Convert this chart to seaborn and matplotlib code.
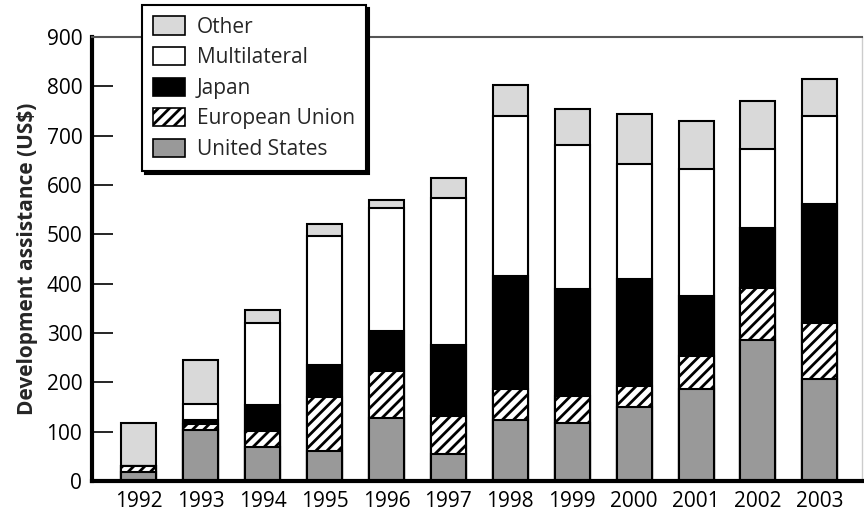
import matplotlib
matplotlib.use("Agg")
import matplotlib.pyplot as plt
import matplotlib.patches as mpatches
import seaborn as sns
import numpy as np
import pandas as pd

years = ["1992", "1993", "1994", "1995", "1996", "1997", "1998", "1999",
         "2000", "2001", "2002", "2003"]
united_states = [18, 104, 68, 60, 127, 54, 123, 118, 149, 186, 286, 207]
european_union = [13, 12, 34, 110, 95, 77, 63, 55, 44, 67, 105, 113]
japan = [0, 8, 52, 65, 83, 144, 230, 216, 217, 123, 121, 242]
multilateral = [0, 33, 167, 262, 249, 299, 324, 293, 233, 256, 161, 178]
other = [86, 89, 25, 24, 16, 40, 62, 73, 100, 98, 98, 74]

series_names = ["United States", "European Union", "Japan", "Multilateral", "Other"]
series_values = [united_states, european_union, japan, multilateral, other]
face_colors = ["#999999", "white", "black", "white", "#d9d9d9"]
hatches = [None, "///", None, None, None]

sns.set_theme(style="white")
plt.rcParams["font.family"] = ["Open Sans", "DejaVu Sans"]
plt.rcParams["hatch.linewidth"] = 2.0
plt.rcParams["hatch.color"] = "black"

FS = 15

fig = plt.figure(figsize=(8.64, 5.18), dpi=100)
ax = fig.add_axes([92 / 864, 1 - 481 / 518, 770 / 864, 444 / 518])

cum = np.cumsum(np.array(series_values), axis=0)
# draw from tallest cumulative to shortest
for i in range(len(series_names) - 1, -1, -1):
    df = pd.DataFrame({"year": years, "value": cum[i]})
    kw = {}
    if hatches[i]:
        kw["hatch"] = hatches[i]
    sns.barplot(data=df, x="year", y="value", color=face_colors[i],
                saturation=1, width=0.565, edgecolor="black", linewidth=1.5,
                errorbar=None, ax=ax, **kw)

ax.set_xlim(-0.755, 11.68)
ax.set_ylim(0, 900)
ax.set_yticks(range(0, 901, 100))
ax.set_xlabel("")
ax.set_ylabel("Development assistance (US$)", fontsize=FS, fontweight="bold",
              labelpad=6)
ax.tick_params(axis="y", direction="in", length=15, width=1.2, color="black",
               labelsize=FS, pad=7, left=True)
ax.tick_params(axis="x", length=0, labelsize=FS, pad=7)
for lab in ax.get_xticklabels() + ax.get_yticklabels():
    lab.set_color("black")

ax.spines["left"].set_linewidth(3)
ax.spines["left"].set_color("black")
ax.spines["bottom"].set_linewidth(3)
ax.spines["bottom"].set_color("black")
ax.spines["top"].set_linewidth(1.5)
ax.spines["top"].set_color("#555555")
ax.spines["right"].set_linewidth(1)
ax.spines["right"].set_color("#cccccc")

handles = []
for i in range(len(series_names) - 1, -1, -1):
    handles.append(mpatches.Patch(facecolor=face_colors[i], edgecolor="black",
                                  linewidth=1.2, hatch=hatches[i],
                                  label=series_names[i]))
leg = ax.legend(handles=handles, loc="upper left",
                bbox_to_anchor=(142 / 864, 1 - 5 / 518),
                bbox_transform=fig.transFigure, borderaxespad=0,
                fontsize=FS, frameon=True, fancybox=False,
                shadow={"color": "black", "alpha": 1},
                handlelength=1.5, handleheight=0.96, handletextpad=0.58,
                labelspacing=0.45, borderpad=0.55)
leg.get_frame().set_edgecolor("black")
leg.get_frame().set_linewidth(1.5)
leg.set_zorder(10)

fig.savefig("out.png", dpi=100)
